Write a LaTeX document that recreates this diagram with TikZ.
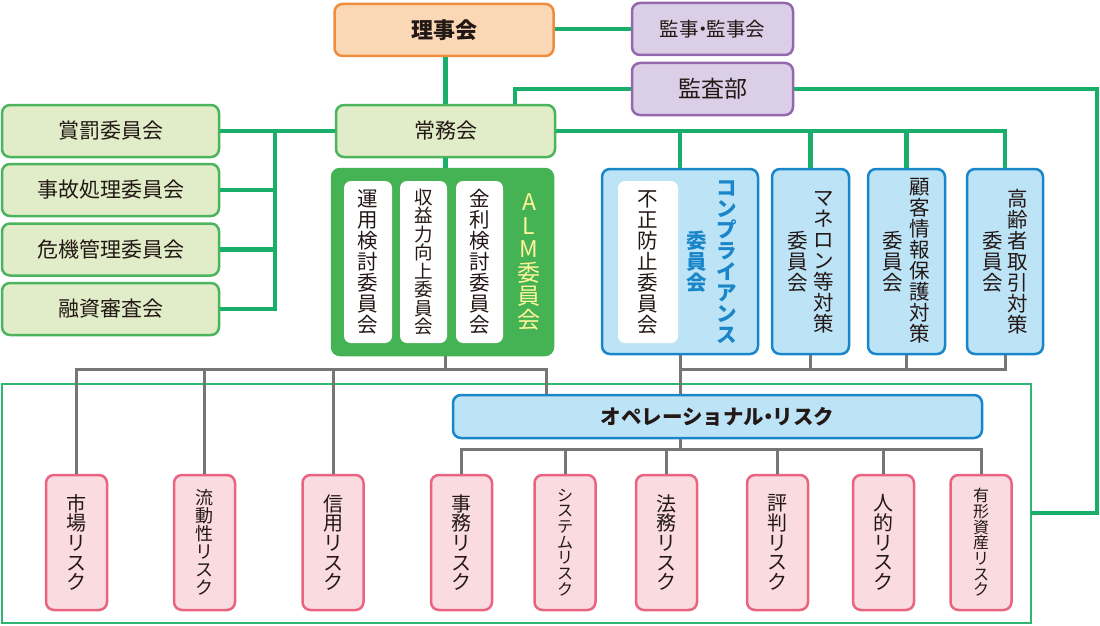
\documentclass[tikz,border=0pt]{standalone}
\usepackage{fontspec}
\setmainfont{Noto Sans CJK JP}
\usetikzlibrary{calc}
\definecolor{gline}{HTML}{1AAE6B}
\definecolor{grline}{HTML}{767676}
\definecolor{txt}{HTML}{231815}
\definecolor{orfill}{HTML}{FBD8B5}
\definecolor{ordraw}{HTML}{F08C3E}
\definecolor{pufill}{HTML}{DBCEE7}
\definecolor{pudraw}{HTML}{9468AE}
\definecolor{lgfill}{HTML}{E1EDC8}
\definecolor{lgdraw}{HTML}{4DB45E}
\definecolor{almfill}{HTML}{45B254}
\definecolor{blfill}{HTML}{BDE3F7}
\definecolor{bldraw}{HTML}{1A86CA}
\definecolor{pkfill}{HTML}{F9DBE0}
\definecolor{pkdraw}{HTML}{EA6381}
\definecolor{outl}{HTML}{2FB772}
\definecolor{almtxt}{HTML}{FFF59A}
\newcommand\ndot{\kern-0.3em・\kern-0.3em}
\tikzset{
  gl/.style={draw=gline, line width=4.5pt},
  gr/.style={draw=grline, line width=3pt},
  bx/.style={rounded corners=8pt, line width=2.5pt, inner sep=0pt, align=center, text=txt},
  orbox/.style={bx, fill=orfill, draw=ordraw},
  pubox/.style={bx, fill=pufill, draw=pudraw},
  lgbox/.style={bx, fill=lgfill, draw=lgdraw},
  almbox/.style={bx, fill=almfill, draw=almfill},
  blbox/.style={bx, fill=blfill, draw=bldraw},
  pkbox/.style={bx, fill=pkfill, draw=pkdraw, minimum width=61pt, minimum height=135pt},
  whbox/.style={rounded corners=7pt, fill=white, inner sep=0pt, align=center, text=txt},
  vt/.style={align=center, inner sep=0pt, text=txt, font=\fontsize{20.5}{21}\selectfont},
  hfont/.style={font=\fontsize{21}{24}\selectfont},
}
\begin{document}
\begin{tikzpicture}[x=1pt, y=-1pt]
\useasboundingbox (0,0) rectangle (1100,626);

% outline of risk area
\draw[outl, line width=1.6pt] (2,384) rectangle (1031,623);

% top boxes
\node[orbox, minimum width=219pt, minimum height=52pt, font=\fontsize{22}{24}\selectfont\bfseries] (riji) at (444,30) {理事会};
\node[pubox, minimum width=161pt, minimum height=52pt, font=\fontsize{19.5}{22}\selectfont] (kanji) at (712.5,29) {監事\ndot 監事会};
\node[pubox, minimum width=161pt, minimum height=52pt, font=\fontsize{23}{24}\selectfont] (kansa) at (712.5,89) {監査部};
\node[lgbox, minimum width=219pt, minimum height=52pt, hfont] (jomu) at (445.5,131) {常務会};

% left committees
\node[lgbox, minimum width=217pt, minimum height=52pt, hfont] (l1) at (110.5,131) {賞罰委員会};
\node[lgbox, minimum width=217pt, minimum height=52pt, hfont] (l2) at (110.5,190) {事故処理委員会};
\node[lgbox, minimum width=217pt, minimum height=52pt, hfont] (l3) at (110.5,249.5) {危機管理委員会};
\node[lgbox, minimum width=217pt, minimum height=52pt, hfont] (l4) at (110.5,309) {融資審査会};

% ALM
\node[almbox, minimum width=221pt, minimum height=186pt] (alm) at (442.5,262) {};
\node[whbox, minimum width=48pt, minimum height=162pt] (a1) at (368,262) {};
\node[whbox, minimum width=47pt, minimum height=162pt] (a2) at (423.5,262) {};
\node[whbox, minimum width=47pt, minimum height=162pt] (a3) at (479.5,262) {};
\node[vt] (a1t) at (a1) {運\\用\\検\\討\\委\\員\\会};
\node[vt, font=\fontsize{18.5}{18.5}\selectfont] (a2t) at (a2) {収\\益\\力\\向\\上\\委\\員\\会};
\node[vt] (a3t) at (a3) {金\\利\\検\\討\\委\\員\\会};
\node[vt, text=almtxt, font=\fontsize{23}{23.5}\selectfont] (almt) at (529,262) {A\\L\\M\\委\\員\\会};

% compliance
\node[blbox, minimum width=156pt, minimum height=185pt] (comp) at (680,261.5) {};
\node[whbox, minimum width=60pt, minimum height=162pt] (fusei) at (648,262) {};
\node[vt] (fuseit) at (fusei) {不\\正\\防\\止\\委\\員\\会};
\node[vt, text=bldraw, font=\fontsize{20.5}{21}\selectfont\bfseries] (compt1) at (727,262) {コ\\ン\\プ\\ラ\\イ\\ア\\ン\\ス};
\node[vt, text=bldraw, font=\fontsize{20.5}{21}\selectfont\bfseries] (compt2) at (697,262) {委\\員\\会};

% other committees
\node[blbox, minimum width=77pt, minimum height=185pt] (mane) at (810.5,261.5) {};
\node[vt] at (823.5,262) {マ\\ネ\\ロ\\ン\\等\\対\\策};
\node[vt] at (797.5,262) {委\\員\\会};
\node[blbox, minimum width=77pt, minimum height=185pt] (kokyaku) at (906.5,261.5) {};
\node[vt] at (920,261) {顧\\客\\情\\報\\保\\護\\対\\策};
\node[vt] at (893,262) {委\\員\\会};
\node[blbox, minimum width=76pt, minimum height=185pt] (koreisha) at (1005,261.5) {};
\node[vt] at (1018,262) {高\\齢\\者\\取\\引\\対\\策};
\node[vt] at (993,262) {委\\員\\会};

% operational risk
\node[blbox, minimum width=529pt, minimum height=43pt, font=\fontsize{20.5}{24}\selectfont\bfseries] (opr) at (717.5,416.5) {オペレーショナル\ndot リスク};

% risk boxes
\node[pkbox, font=\fontsize{20}{19.6}\selectfont] (r1) at (76.5,542.5) {市\\場\\リ\\ス\\ク};
\node[pkbox, font=\fontsize{18}{18}\selectfont] (r2) at (204.5,542.5) {流\\動\\性\\リ\\ス\\ク};
\node[pkbox, font=\fontsize{20}{19.6}\selectfont] (r3) at (333,542.5) {信\\用\\リ\\ス\\ク};
\node[pkbox, font=\fontsize{20}{19.6}\selectfont] (r4) at (461.5,542.5) {事\\務\\リ\\ス\\ク};
\node[pkbox, font=\fontsize{16}{15.7}\selectfont] (r5) at (565,542.5) {シ\\ス\\テ\\ム\\リ\\ス\\ク};
\node[pkbox, font=\fontsize{20}{19.6}\selectfont] (r6) at (666.5,542.5) {法\\務\\リ\\ス\\ク};
\node[pkbox, font=\fontsize{20}{19.6}\selectfont] (r7) at (777.5,542.5) {評\\判\\リ\\ス\\ク};
\node[pkbox, font=\fontsize{20}{19.6}\selectfont] (r8) at (883.5,542.5) {人\\的\\リ\\ス\\ク};
\node[pkbox, font=\fontsize{16}{15.7}\selectfont] (r9) at (981,542.5) {有\\形\\資\\産\\リ\\ス\\ク};

% green connectors
\coordinate (lbus) at (275,0);
\coordinate (kr) at (1097,89);
\coordinate (kb) at (1097,513);
\coordinate (ob) at (1031,513);
\coordinate (jb) at (515,89);
\coordinate (cbus) at (0,131);
\draw[gl] (riji.east |- kanji.west) -- (kanji.west);
\draw[gl] (riji.south -| jomu.north) -- (jomu.north);
\draw[gl] (kansa.west) -- (jb) -- (jb |- jomu.north);
\draw[gl] (kansa.east) -- (kr) -- (kb) -- (ob);
\draw[gl] (jomu.west) -- (l1.east);
\draw[gl] (lbus |- l1.east) -- (lbus |- l4.east) -- (l4.east);
\draw[gl] (l2.east) -- (lbus |- l2.east);
\draw[gl] (l3.east) -- (lbus |- l3.east);
\draw[gl] (jomu.east) -- (koreisha.north |- cbus) -- (koreisha.north);
\draw[gl] (comp.north |- cbus) -- (comp.north);
\draw[gl] (mane.north |- cbus) -- (mane.north);
\draw[gl] (kokyaku.north |- cbus) -- (kokyaku.north);
\draw[gl] (jomu.south) -- (jomu.south |- alm.north);

% gray connectors
\coordinate (busA) at (0,369);
\coordinate (busB) at (0,449);
\coordinate (oa) at (546,369);
\draw[gr] (jomu.south |- alm.south) -- (jomu.south |- busA);
\draw[gr] (r1.north) -- (r1.north |- busA) -- (oa) -- (oa |- opr.north);
\draw[gr] (r2.north) -- (r2.north |- busA);
\draw[gr] (r3.north) -- (r3.north |- busA);
\draw[gr] (comp.south) -- (comp.south |- opr.north);
\draw[gr] (comp.south |- busA) -- (koreisha.south |- busA) -- (koreisha.south);
\draw[gr] (mane.south) -- (mane.south |- busA);
\draw[gr] (kokyaku.south) -- (kokyaku.south |- busA);
\draw[gr] (opr.south -| comp.south) -- (comp.south |- busB);
\draw[gr] (r4.north) -- (r4.north |- busB) -- (r9.north |- busB) -- (r9.north);
\draw[gr] (r5.north) -- (r5.north |- busB);
\draw[gr] (r6.north) -- (r6.north |- busB);
\draw[gr] (r7.north) -- (r7.north |- busB);
\draw[gr] (r8.north) -- (r8.north |- busB);
\end{tikzpicture}
\end{document}
